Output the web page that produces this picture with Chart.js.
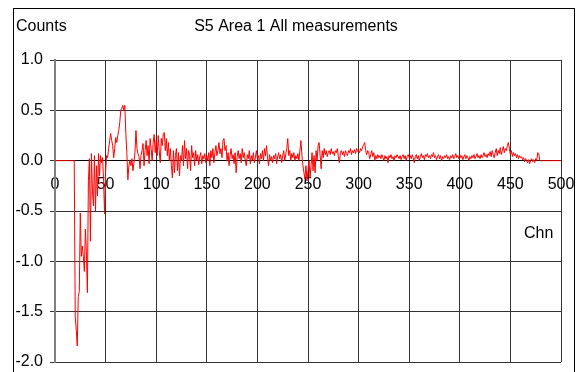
<!DOCTYPE html>
<html>
<head>
<meta charset="utf-8">
<script src="https://cdn.jsdelivr.net/npm/chart.js@4.4.1/dist/chart.umd.min.js"></script>
<style>
  html, body { margin: 0; padding: 0; background: #ffffff; }
  canvas { display: block; }
</style>
</head>
<body>
<canvas id="c" width="576" height="372"></canvas>
<script>
// ---- Data ----
const chartTitle = 'S5 Area 1 All measurements';
const yAxisLabel = 'Counts';
const xAxisLabel = 'Chn';
const xTicks = [0, 50, 100, 150, 200, 250, 300, 350, 400, 450, 500];
const yTicks = [-2.0, -1.5, -1.0, -0.5, 0.0, 0.5, 1.0];
// counts per channel, channel = index
const counts = [
  0,0,0,0,0,0,0,0,0,0, 0,0,0,0,0,0,0,0,0,0,
  -1.55,-1.68,-1.84,-1.35,-1.3,-0.52,-0.95,-0.85,-0.95,-1.1,
  -0.68,-0.9,-1.31,-0.2,0.02,-0.8,0.07,-0.3,-0.45,0.05,
  -0.5,-0.05,-0.35,0.07,-0.15,0.05,-0.02,0.03,-0.2,-0.53,
  -0.1,0.05,0.03,0.12,0.2,0.27,0.2,0.15,0.03,0.12,
  0.23,0.18,0.25,0.3,0.38,0.5,0.52,0.55,0.5,0.55,
  0.27,0.07,-0.19,-0.05,0.0,-0.05,0.02,-0.1,-0.02,0.08,
  0.3,0.12,0.07,0.04,-0.08,0.05,0.1,0.17,-0.05,0.1,
  0.2,0.05,0.15,-0.03,0.22,0.12,0.0,0.18,0.26,0.08,
  0.2,0.05,0.25,0.1,-0.02,0.22,0.15,0.27,0.28,0.1,
  0.22,0.05,0.18,0.0,0.12,-0.05,-0.17,0.1,-0.12,0.05,
  0.12,-0.1,0.08,-0.15,0.05,0.0,0.15,-0.05,0.2,0.02,
  0.12,-0.08,0.1,0.05,-0.1,0.15,0.03,0.08,-0.05,0.1,
  0.0,0.06,-0.04,0.04,0.08,-0.03,0.05,0.02,0.07,-0.02,
  0.05,0.0,0.08,-0.05,0.1,0.03,0.12,-0.02,0.08,0.15,
  0.05,0.1,0.18,0.07,0.12,0.03,0.2,0.22,0.1,0.15,
  0.0,0.08,-0.05,0.05,0.12,0.02,0.06,-0.03,0.08,-0.12,
  0.04,0.1,0.02,0.07,-0.02,0.12,0.03,0.08,0.0,-0.05,
  0.06,0.02,0.1,-0.03,0.05,0.0,0.08,-0.02,0.03,0.1,
  0.02,0.05,-0.03,0.07,0.02,0.1,0.0,0.12,0.05,0.15,
  0.03,-0.05,0.06,0.0,0.04,-0.02,0.05,0.02,0.07,-0.03,
  0.04,0.08,0.02,0.06,-0.02,0.05,0.1,0.0,0.06,0.12,
  0.22,0.05,0.1,0.0,0.07,0.03,0.08,0.0,0.05,0.02,
  0.07,0.0,0.1,0.2,0.05,-0.05,-0.12,-0.18,-0.05,-0.2,
  -0.1,0.0,-0.17,-0.05,0.08,-0.1,0.05,-0.12,0.1,0.0,
  0.15,0.18,0.05,-0.08,0.1,0.03,0.12,0.06,0.1,0.04,
  0.08,0.1,0.06,0.12,0.07,0.09,0.05,0.1,0.08,0.12,
  0.04,-0.02,0.08,0.1,0.06,0.09,0.04,0.1,0.07,0.05,
  0.1,0.08,0.12,0.06,0.1,0.08,0.11,0.07,0.12,0.09,
  0.1,0.08,0.12,0.1,0.14,0.16,0.18,0.1,0.06,0.1,
  0.08,0.02,0.06,0.1,0.04,0.08,0.0,0.05,0.02,0.06,
  0.03,0.05,0.02,0.06,0.03,0.0,0.05,0.02,0.04,-0.02,
  0.05,0.03,0.06,0.02,0.04,0.0,0.05,0.03,0.06,0.04,
  0.02,0.05,0.01,0.04,0.06,0.02,0.05,0.0,0.04,0.06,
  0.03,0.05,0.02,0.06,0.03,-0.02,0.04,0.06,0.02,0.05,
  0.0,0.04,0.07,0.03,0.05,0.01,0.06,0.04,0.07,0.03,
  0.05,0.02,0.06,0.04,0.08,0.03,0.05,0.01,0.04,0.06,
  0.02,0.05,0.0,0.04,0.02,0.05,0.03,0.06,0.02,0.04,
  0.01,0.05,0.03,0.06,0.02,0.04,0.07,0.03,0.05,0.02,
  0.06,0.03,0.05,0.01,0.04,0.06,0.02,0.05,0.03,0.0,
  0.04,0.02,0.05,0.03,0.06,0.02,0.04,0.07,0.03,0.05,
  0.02,0.06,0.03,0.05,0.08,0.04,0.06,0.03,0.07,0.05,
  0.09,0.04,0.1,0.06,0.03,0.08,0.12,0.05,0.1,0.07,
  0.13,0.06,0.1,0.14,0.08,0.12,0.1,0.15,0.18,0.12,
  0.06,0.1,0.04,0.08,0.05,0.07,0.03,0.06,0.02,0.05,
  0.03,0.04,0.01,0.03,-0.01,0.02,0.0,-0.02,0.01,-0.03,
  0.0,0.02,-0.01,0.01,-0.02,0.02,0.0,0.08,0.07,0.0,
  0,0,0,0,0,0,0,0,0,0,
  0,0,0,0,0,0,0,0,0,0,
  0,0,0
];
const channels = counts.map((_, i) => i);

const FONT = 'Liberation Sans, Arial, sans-serif';

const decorPlugin = {
  id: 'decor',
  beforeDraw(chart) {
    const ctx = chart.ctx;
    ctx.save();
    ctx.fillStyle = '#ffffff';
    ctx.fillRect(0, 0, chart.width, chart.height);
    ctx.restore();
  },
  afterDraw(chart) {
    const ctx = chart.ctx;
    ctx.save();
    ctx.strokeStyle = '#000000';
    ctx.lineWidth = 1;
    ctx.strokeRect(13.5, 8.5, 561, 380);
    ctx.fillStyle = '#000000';
    ctx.font = '16px ' + FONT;
    ctx.textBaseline = 'alphabetic';
    ctx.textAlign = 'left';
    ctx.fillText(yAxisLabel, 16, 31);
    ctx.fillText(xAxisLabel, 524, 238);
    ctx.textAlign = 'center';
    ctx.fillText(chartTitle, 296, 31);
    ctx.restore();
  }
};

new Chart(document.getElementById('c'), {
  type: 'line',
  data: {
    datasets: [{
      data: channels.map((ch, i) => ({ x: ch, y: counts[i] })),
      borderColor: '#ff0000',
      borderWidth: 1,
      pointRadius: 0,
      tension: 0,
      fill: false,
      clip: false
    }]
  },
  options: {
    responsive: false,
    animation: false,
    devicePixelRatio: 1,
    layout: { padding: { left: 0, top: 60, right: 15, bottom: 10 } },
    plugins: { legend: { display: false }, tooltip: { enabled: false }, title: { display: false } },
    scales: {
      x: {
        type: 'linear',
        min: 0, max: 500,
        position: { y: 0 },
        afterBuildTicks: s => { s.ticks = xTicks.map(v => ({ value: v })); },
        afterFit: s => { s.paddingLeft = 0; s.paddingRight = 0; s.paddingTop = 0; s.paddingBottom = 0; },
        ticks: {
          color: '#000000',
          font: { family: FONT, size: 16 },
          padding: 10,
          maxRotation: 0,
          autoSkip: false,
          callback: v => String(v)
        },
        grid: { color: '#333333', lineWidth: 1, tickLength: 4, drawTicks: true },
        border: { color: '#000000', width: 1 }
      },
      y: {
        type: 'linear',
        min: -2, max: 1,
        afterBuildTicks: s => { s.ticks = yTicks.map(v => ({ value: v })); },
        afterFit: s => { s.width = 55; s.paddingTop = 0; s.paddingBottom = 0; s.paddingLeft = 0; s.paddingRight = 0; },
        ticks: {
          color: '#000000',
          font: { family: FONT, size: 16 },
          padding: 7,
          callback: v => Number(v).toFixed(1)
        },
        grid: { color: '#333333', lineWidth: 1, tickLength: 5 },
        border: { color: '#808080', width: 2 }
      }
    }
  },
  plugins: [decorPlugin]
});
</script>
</body>
</html>
